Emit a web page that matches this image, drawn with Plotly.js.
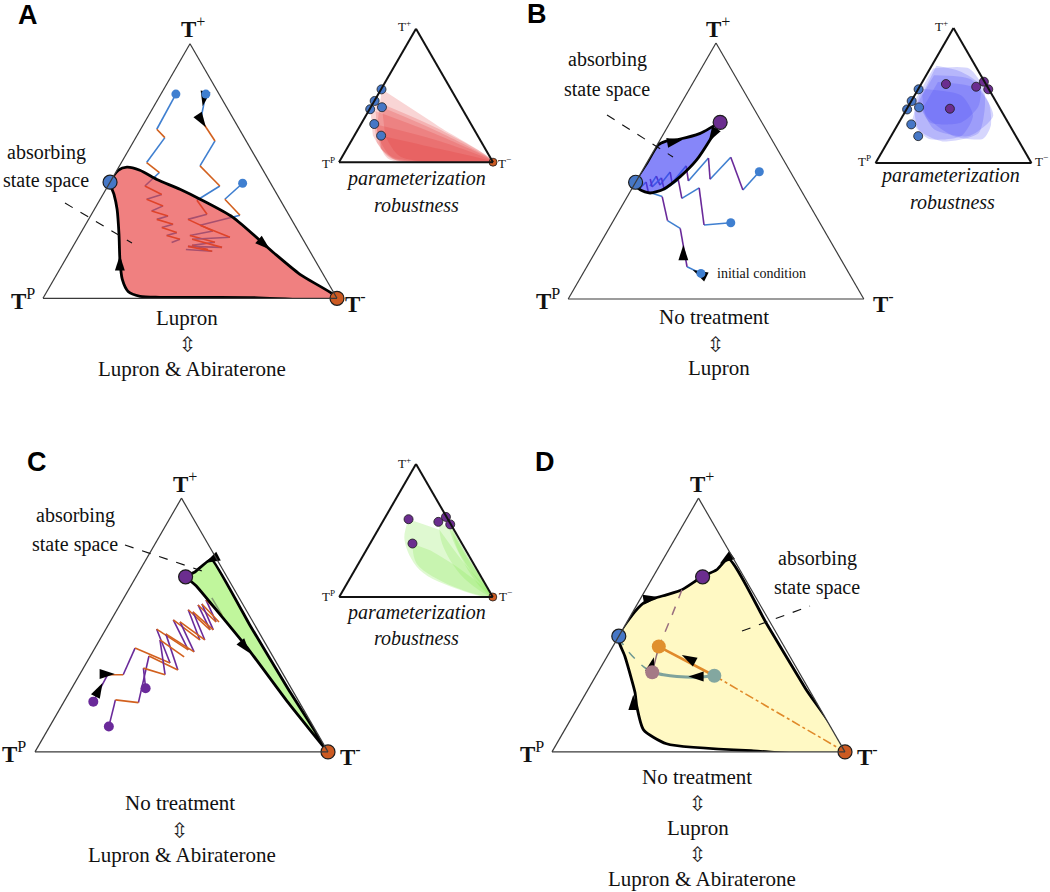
<!DOCTYPE html>
<html><head><meta charset="utf-8">
<script src="https://cdn.plot.ly/plotly-3.0.1.min.js"></script>
<style>html,body{margin:0;padding:0;background:#fff}</style>
</head><body><div id="chart" style="width:1050px;height:892px"></div>
<script>
// ===== DATA: ternary fractions (a = T+, c = T-, T^P = 1 - a - c) =====
// Panel A: Lupron <-> Lupron & Abiraterone
const A_region_a = [0.456,0.503,0.515,0.503,0.467,0.428,0.389,0.318,0.181,0.094,0,0.003,0.004,0.008,0.027,0.075,0.153,0.251,0.35,0.408,0.456];
const A_region_c = [0,0.005,0.028,0.078,0.154,0.252,0.34,0.487,0.692,0.827,1,0.7,0.396,0.326,0.276,0.232,0.185,0.133,0.077,0.0375,0];
const A_t1_a = [0.802,0.664,0.631,0.533,0.494,0.441,0.408,0.389,0.363,0.343,0.323,0.31,0.291,0.278,0.258,0.247,0.232,0.219];
const A_t1_c = [0.051,0.055,0.099,0.086,0.149,0.126,0.2,0.158,0.227,0.198,0.264,0.232,0.297,0.265,0.326,0.297,0.35,0.328];
const A_t2_a = [0.802,0.703,0.618,0.52,0.441,0.385,0.33,0.31,0.264,0.247,0.22,0.208,0.192];
const A_t2_c = [0.153,0.185,0.276,0.274,0.381,0.331,0.393,0.338,0.446,0.376,0.475,0.403,0.465];
const A_t3_a = [0.452,0.389,0.326,0.287,0.24,0.232,0.2,0.204,0.185,0.192];
const A_t3_c = [0.453,0.424,0.507,0.391,0.516,0.391,0.509,0.391,0.483,0.39];
const A_arrow_a = [0.192,0.169,0.754,0.672];
const A_arrow_c = [0.676,0.177,0.166,0.218];
const A_arrow_ang = [131,0,191,147];
// fixed points
const stable_blue_a = [0.456], stable_blue_c = [0];
const stable_purple_a = [0.69], stable_purple_c = [0.169];
const sink_a = [0], sink_c = [1];
// parameterization robustness: initial conditions
const initBlue_a = [0.546,0.459,0.397,0.412,0.286,0.199];
const initBlue_c = [0.003,0.002,0.004,0.073,0.086,0.174];
const initPurple_a = [0.585,0.402,0.565,0.602,0.546];
const initPurple_c = [0.159,0.276,0.363,0.394,0.45];
const robA_a = [[0.546,0.27,0,0.03,0.25],[0.459,0.25,0,0.02,0.2],[0.397,0.2,0,0.03,0.2],[0.412,0.22,0,0.04,0.2],[0.286,0.15,0,0.03,0.15],[0.199,0.1,0,0.03,0.1]];
const robA_c = [[0.005,0.51,1,0.30,0.12],[0.003,0.52,1,0.35,0.15],[0.005,0.55,1,0.32,0.12],[0.073,0.55,1,0.38,0.2],[0.086,0.6,1,0.33,0.17],[0.174,0.6,1,0.35,0.22]];
// Panel B: No treatment <-> Lupron
const B_region_a = [0.452,0.53,0.602,0.617,0.625,0.647,0.686,0.621,0.543,0.478,0.429,0.414,0.426,0.452];
const B_region_c = [0,0.001,0.003,0.023,0.066,0.123,0.169,0.169,0.163,0.14,0.108,0.07,0.031,0];
const B_t1_a = [0.497,0.426,0.554,0.468,0.551,0.461,0.52,0.453,0.496,0.445,0.48,0.441];
const B_t1_c = [0.398,0.378,0.273,0.246,0.199,0.176,0.139,0.125,0.097,0.088,0.058,0.056];
const B_t2_a = [0.298,0.289,0.434,0.393,0.465,0.426,0.473,0.438,0.469];
const B_t2_c = [0.401,0.315,0.226,0.188,0.14,0.112,0.079,0.065,0.043];
const B_t3_a = [0.1,0.126,0.276,0.306,0.4,0.418,0.457,0.434];
const B_t3_c = [0.399,0.339,0.241,0.183,0.118,0.062,0.035,0.027];
const B_arrow_a = [0.621,0.614,0.211,0.113];
const B_arrow_c = [0.075,0.168,0.284,0.365];
const B_arrow_ang = [79,211,0,-63];
const robB_a = [[0.70,0.70,0.55,0.40,0.22,0.16,0.25,0.45],[0.65,0.62,0.45,0.28,0.18,0.2,0.35,0.5],[0.72,0.68,0.58,0.42,0.3,0.3,0.45],[0.6,0.55,0.35,0.2,0.25,0.4],[0.55,0.5,0.35,0.2,0.18,0.3]];
const robB_c = [[0.02,0.25,0.42,0.50,0.55,0.35,0.15,0.02],[0.05,0.30,0.50,0.60,0.60,0.4,0.15,0.05],[0.03,0.20,0.38,0.45,0.40,0.2,0.05],[0.1,0.38,0.58,0.5,0.25,0.1],[0.02,0.3,0.45,0.45,0.25,0.08]];
// Panel C: No treatment <-> Lupron & Abiraterone
const C_region_a = [0.691,0.709,0.76,0.5,0.25,0,0.2,0.415,0.652,0.691];
const C_region_c = [0.17,0.191,0.222,0.483,0.738,1,0.76,0.514,0.226,0.17];
const C_t1_a = [0.198,0.304,0.304,0.409,0.35,0.484,0.402,0.52,0.441,0.56,0.481,0.579,0.512,0.599,0.54,0.607];
const C_t1_c = [0.1,0.096,0.149,0.137,0.286,0.173,0.322,0.212,0.342,0.243,0.357,0.267,0.362,0.284,0.368,0.3];
const C_t2_a = [0.1,0.205,0.194,0.378,0.323,0.465,0.394,0.512,0.441,0.552,0.481,0.583,0.512];
const C_t2_c = [0.202,0.172,0.256,0.2,0.326,0.214,0.346,0.239,0.359,0.263,0.368,0.278,0.372];
const C_t3_a = [0.251,0.33,0.304,0.441,0.374];
const C_t3_c = [0.252,0.205,0.292,0.206,0.322];
const C_arrow_a = [0.744,0.389,0.271,0.307];
const C_arrow_c = [0.208,0.539,0.095,0.119];
const C_arrow_ang = [243,141,28,90];
const robC_a = [[0.585,0.43,0.205,0.055,0,0.242,0.505],[0.40,0.25,0.08,0,0.2,0.35],[0.565,0.4,0.15,0,0.3,0.5],[0.6,0.4,0.1,0,0.3,0.5],[0.546,0.35,0.1,0,0.25,0.45]];
const robC_c = [[0.16,0.21,0.42,0.757,1,0.70,0.40],[0.278,0.38,0.70,1,0.70,0.42],[0.367,0.47,0.73,1,0.68,0.48],[0.398,0.55,0.85,1,0.69,0.49],[0.452,0.6,0.87,1,0.74,0.54]];
// Panel D: No treatment <-> Lupron <-> Lupron & Abiraterone
const D_region_a = [0.451,0.533,0.586,0.606,0.619,0.639,0.691,0.717,0.761,0.5,0.25,0,0.004,0.032,0.087,0.179,0.233,0.284,0.376,0.451];
const D_region_c = [0,0.003,0.019,0.049,0.081,0.124,0.168,0.203,0.222,0.485,0.74,1,0.686,0.375,0.269,0.2,0.167,0.13,0.061,0];
const D_orange_pt_a = [0.415], D_orange_pt_c = [0.157];
const D_mauve_pt_a = [0.314], D_mauve_pt_c = [0.185];
const D_teal_pt_a = [0.3], D_teal_pt_c = [0.404];
const D_mauveDash_a = [0.639,0.54,0.461,0.415];
const D_mauveDash_c = [0.124,0.14,0.151,0.157];
const D_tealDash_a = [0.451,0.389,0.336,0.314];
const D_tealDash_c = [0,0.071,0.144,0.185];
const D_tealPath_a = [0.3,0.294,0.297,0.304,0.314];
const D_tealPath_c = [0.404,0.347,0.278,0.228,0.185];
const D_arrow_a = [0.61,0.741,0.225,0.382,0.297,0.373];
const D_arrow_c = [0.058,0.202,0.165,0.252,0.317,0.161];
const D_arrow_ang = [80,234,0,298,270,15];

// ===== helpers =====
const W = 1050, H = 892;
const px = x => x / W, py = y => 1 - y / H;
const dom = (x0, x1, y0, y1) => ({x: [x0 / W, x1 / W], y: [1 - y1 / H, 1 - y0 / H]});
const SERIF = '"Liberation Serif", "Times New Roman", serif';
const BLUE = '#4677c6', BLUEL = '#3f7fd0', ORANGE = '#d2601e', ORDOT = '#cc5a22', PURPLE = '#6b2d8f', PURL = '#6a2a9a';

const traces = [];
const base = {type: 'scatterternary', hoverinfo: 'skip', showlegend: false};

function zig(sub, a, c, col1, col2, w) {
  const A1 = [], C1 = [], A2 = [], C2 = [];
  for (let i = 0; i < a.length - 1; i++) {
    const even = i % 2 === 0;
    (even ? A1 : A2).push(a[i], a[i + 1], null);
    (even ? C1 : C2).push(c[i], c[i + 1], null);
  }
  traces.push(Object.assign({}, base, {subplot: sub, mode: 'lines', a: A1, c: C1, line: {color: col1, width: w}}));
  traces.push(Object.assign({}, base, {subplot: sub, mode: 'lines', a: A2, c: C2, line: {color: col2, width: w}}));
}
function region(sub, a, c, fill, lw, sm) {
  traces.push(Object.assign({}, base, {subplot: sub, mode: 'lines', a: a, c: c, fill: 'toself', fillcolor: fill,
    line: {color: lw > 0 ? '#000' : 'rgba(0,0,0,0)', width: lw > 0 ? lw : 0, shape: 'spline', smoothing: sm}}));
}
function line(sub, a, c, color, width, dash, shape) {
  traces.push(Object.assign({}, base, {subplot: sub, mode: 'lines', a: a, c: c, line: {color: color, width: width, dash: dash || 'solid', shape: shape || 'linear'}}));
}
function arrows(sub, a, c, ang, size) {
  traces.push(Object.assign({}, base, {subplot: sub, mode: 'markers', a: a, c: c, cliponaxis: false,
    marker: {symbol: 'arrow', size: size || 16, angle: ang, color: '#000', line: {width: 0}}}));
}
function dots(sub, a, c, color, size, lw) {
  traces.push(Object.assign({}, base, {subplot: sub, mode: 'markers', a: a, c: c, cliponaxis: false,
    marker: {color: color, size: size, line: {color: '#1c1c1c', width: lw}}}));
}
const firsts = arrs => arrs.map(x => x[0]);

// ----- Panel A -----
zig('ternary', A_t1_a, A_t1_c, BLUEL, ORANGE, 1.6);
zig('ternary', A_t2_a, A_t2_c, BLUEL, ORANGE, 1.6);
zig('ternary', A_t3_a, A_t3_c, BLUEL, ORANGE, 1.6);
region('ternary', A_region_a, A_region_c, 'rgba(230,50,50,0.62)', 2.8, 0.7);
arrows('ternary', A_arrow_a, A_arrow_c, A_arrow_ang, 16);
dots('ternary', firsts([A_t1_a, A_t2_a, A_t3_a]), firsts([A_t1_c, A_t2_c, A_t3_c]), BLUEL, 9, 0);
dots('ternary', stable_blue_a, stable_blue_c, BLUE, 14, 1.2);
dots('ternary', sink_a, sink_c, ORDOT, 14, 1.2);
// inset A
robA_a.forEach((a, i) => region('ternary2', a, robA_c[i], 'rgba(225,45,45,0.2)', 0, 0.8));
dots('ternary2', initBlue_a, initBlue_c, BLUE, 9, 0.8);
dots('ternary2', sink_a, sink_c, ORDOT, 8, 0.8);

// ----- Panel B -----
zig('ternary3', B_t1_a, B_t1_c, BLUEL, PURL, 1.6);
zig('ternary3', B_t2_a, B_t2_c, BLUEL, PURL, 1.6);
zig('ternary3', B_t3_a, B_t3_c, BLUEL, PURL, 1.6);
region('ternary3', B_region_a, B_region_c, 'rgba(60,60,245,0.62)', 2.8, 0.7);
arrows('ternary3', B_arrow_a, B_arrow_c, B_arrow_ang, 16);
dots('ternary3', firsts([B_t1_a, B_t2_a, B_t3_a]), firsts([B_t1_c, B_t2_c, B_t3_c]), BLUEL, 9, 0);
dots('ternary3', stable_blue_a, stable_blue_c, BLUE, 14, 1.2);
dots('ternary3', stable_purple_a, stable_purple_c, PURPLE, 14, 1.2);
// inset B
robB_a.forEach((a, i) => region('ternary4', a, robB_c[i], 'rgba(70,70,245,0.22)', 0, 0.7));
dots('ternary4', initBlue_a, initBlue_c, BLUE, 9, 0.8);
dots('ternary4', initPurple_a, initPurple_c, PURPLE, 9, 0.8);

// ----- Panel C -----
zig('ternary5', C_t1_a, C_t1_c, PURL, ORANGE, 1.6);
zig('ternary5', C_t2_a, C_t2_c, PURL, ORANGE, 1.6);
zig('ternary5', C_t3_a, C_t3_c, PURL, ORANGE, 1.6);
region('ternary5', C_region_a, C_region_c, 'rgba(150,240,90,0.6)', 2.8, 0.3);
arrows('ternary5', C_arrow_a, C_arrow_c, C_arrow_ang, 16);
dots('ternary5', firsts([C_t1_a, C_t2_a, C_t3_a]), firsts([C_t1_c, C_t2_c, C_t3_c]), PURL, 10, 0);
dots('ternary5', stable_purple_a, stable_purple_c, PURPLE, 14, 1.2);
dots('ternary5', sink_a, sink_c, ORDOT, 14, 1.2);
// inset C
robC_a.forEach((a, i) => region('ternary6', a, robC_c[i], 'rgba(140,235,90,0.28)', 0, 1));
dots('ternary6', initPurple_a, initPurple_c, PURPLE, 9, 0.8);
dots('ternary6', sink_a, sink_c, ORDOT, 8, 0.8);

// ----- Panel D -----
region('ternary7', D_region_a, D_region_c, 'rgba(255,249,196,1)', 2.8, 0.6);
line('ternary7', D_mauveDash_a, D_mauveDash_c, '#9a7080', 1.5, 'dash', 'spline');
line('ternary7', D_tealDash_a, D_tealDash_c, '#6f9993', 1.5, 'dash', 'spline');
line('ternary7', [D_teal_pt_a[0], sink_a[0]], [D_teal_pt_c[0], sink_c[0]], '#e08a2a', 1.6, 'dashdot');
line('ternary7', [D_orange_pt_a[0], D_teal_pt_a[0]], [D_orange_pt_c[0], D_teal_pt_c[0]], '#e08a2a', 2.6);
line('ternary7', D_tealPath_a, D_tealPath_c, '#7fa39c', 3, 'solid', 'spline');
line('ternary7', [D_mauve_pt_a[0], D_orange_pt_a[0]], [D_mauve_pt_c[0], D_orange_pt_c[0]], '#8a6a76', 1.5);
arrows('ternary7', D_arrow_a, D_arrow_c, D_arrow_ang, 16);
dots('ternary7', stable_blue_a, stable_blue_c, BLUE, 14, 1.2);
dots('ternary7', stable_purple_a, stable_purple_c, PURPLE, 14, 1.2);
dots('ternary7', sink_a, sink_c, ORDOT, 14, 1.2);
dots('ternary7', D_orange_pt_a, D_orange_pt_c, '#e0902e', 14, 0);
dots('ternary7', D_mauve_pt_a, D_mauve_pt_c, '#a57a86', 14, 0);
dots('ternary7', D_teal_pt_a, D_teal_pt_c, '#83a7a0', 14, 0);

// ===== layout =====
function tern(d, lw, lc) {
  const ax = () => ({showgrid: false, showticklabels: false, ticks: '', showline: true, linecolor: lc, linewidth: lw, title: {text: ''}, min: 0});
  return {domain: d, sum: 1, bgcolor: 'rgba(0,0,0,0)', aaxis: ax(), baxis: ax(), caxis: ax()};
}
const ann = [];
function L(x, y, text, size, o) {
  ann.push(Object.assign({x: px(x), y: py(y), xref: 'paper', yref: 'paper', text: text, showarrow: false,
    font: {family: SERIF, size: size, color: '#111'}, xanchor: 'center', yanchor: 'middle'}, o || {}));
}
const SANS = {family: '"Liberation Sans", Arial, sans-serif', size: 27, color: '#000'};
[['A', 28, 15], ['B', 537, 14], ['C', 37, 462], ['D', 545, 462]].forEach(p => L(p[1], p[2], '<b>' + p[0] + '</b>', 27, {font: SANS}));
const vPlus = '<b>T</b><sup>+</sup>', vP = '<b>T</b><sup>P</sup>', vM = '<b>T</b><sup>-</sup>';
const sPlus = 'T<sup>+</sup>', sP = 'T<sup>P</sup>', sM = 'T<sup>\u2212</sup>';
// main vertex labels
[[193, 28, 37, 299, 343, 302], [718, 28, 562, 299, 871, 302], [185, 482, 28, 752, 338, 755], [702, 482, 546, 752, 855, 755]].forEach(v => {
  L(v[0], v[1], vPlus, 23);
  L(v[2], v[3], vP, 23, {xanchor: 'right'});
  L(v[4], v[5], vM, 23, {xanchor: 'left'});
});
// inset vertex labels
[[413, 26, 337, 163, 496, 163], [950, 26, 873, 161, 1033, 161], [413, 463, 337, 596, 497, 596]].forEach(v => {
  L(v[0], v[1], sPlus, 13, {xanchor: 'right'});
  L(v[2], v[3], sP, 13, {xanchor: 'right'});
  L(v[4], v[5], sM, 13, {xanchor: 'left'});
});
// parameterization robustness
[[416, 178, 416, 205], [950, 175, 952, 202], [416, 612, 416, 638]].forEach(v => {
  L(v[0], v[1], '<i>parameterization</i>', 20);
  L(v[2], v[3], '<i>robustness</i>', 20);
});
// absorbing state space
[[46, 152, 180], [607, 60, 89], [75, 515, 544], [817, 558, 587]].forEach(v => {
  L(v[0], v[1], 'absorbing', 20);
  L(v[0], v[2], 'state space', 20);
});
const ARW = '\u21F3';
const arrowFont = {family: '"DejaVu Sans", sans-serif', size: 21, color: '#222'};
// treatment labels
L(187, 318, 'Lupron', 21); L(188, 345, ARW, 21, {font: arrowFont}); L(192, 369, 'Lupron &amp; Abiraterone', 21);
L(714, 317, 'No treatment', 21); L(716, 345, ARW, 21, {font: arrowFont}); L(719, 368, 'Lupron', 21);
L(180, 803, 'No treatment', 21); L(180, 831, ARW, 21, {font: arrowFont}); L(182, 855, 'Lupron &amp; Abiraterone', 21);
L(697, 777, 'No treatment', 21); L(698, 804, ARW, 21, {font: arrowFont}); L(698, 828, 'Lupron', 21);
L(698, 855, ARW, 21, {font: arrowFont}); L(702, 879, 'Lupron &amp; Abiraterone', 21);
L(715, 273, 'initial condition', 14, {xanchor: 'left'});

const leaders = [[65, 203, 132, 243], [607, 115, 673, 157], [125, 545, 208, 573], [742, 631, 810, 606]];
const shapes = leaders.map(s => ({type: 'line', xref: 'paper', yref: 'paper', x0: px(s[0]), y0: py(s[1]), x1: px(s[2]), y1: py(s[3]),
  line: {color: '#111', width: 1.1, dash: 'dash'}}));

const layout = {
  width: W, height: H, margin: {l: 0, r: 0, t: 0, b: 0}, paper_bgcolor: '#fff', showlegend: false,
  hovermode: false, dragmode: false,
  ternary: tern(dom(43, 337, 43, 299), 1.2, '#3a3a3a'),
  ternary2: tern(dom(339, 493, 28, 163), 2, '#111'),
  ternary3: tern(dom(568, 864, 43, 299), 1.2, '#3a3a3a'),
  ternary4: tern(dom(875, 1032, 28, 163), 2, '#111'),
  ternary5: tern(dom(35, 328, 497, 753), 1.2, '#3a3a3a'),
  ternary6: tern(dom(339, 493, 464, 597), 2, '#111'),
  ternary7: tern(dom(552, 845, 497, 753), 1.2, '#3a3a3a'),
  annotations: ann, shapes: shapes
};
Plotly.newPlot('chart', traces, layout, {staticPlot: true, displayModeBar: false});
</script>
</body></html>
